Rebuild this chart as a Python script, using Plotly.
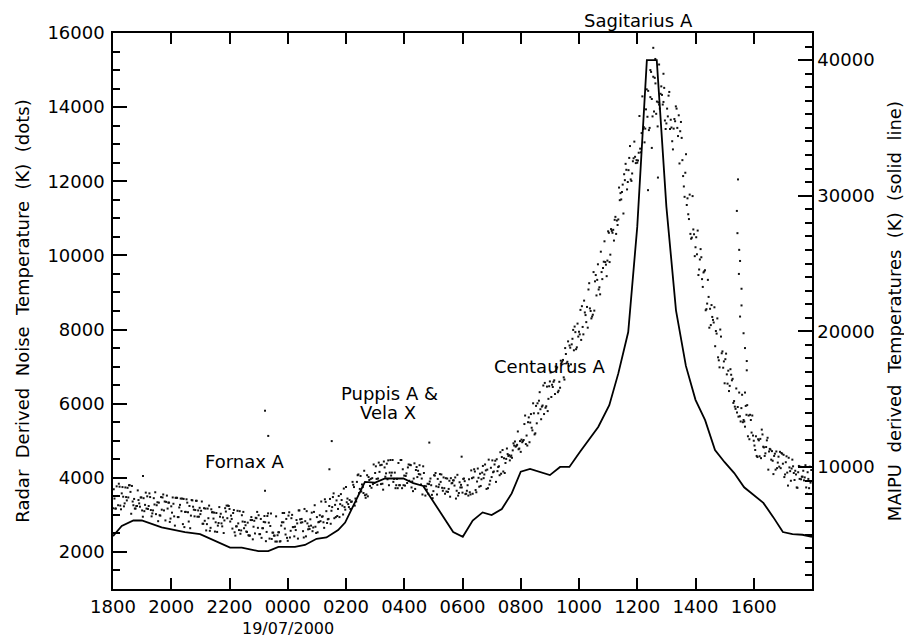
import plotly.graph_objects as go

# ---------------- data ----------------
# hours elapsed since 18:00 on 18/07/2000
x_tick_hours = [0, 2, 4, 6, 8, 10, 12, 14, 16, 18, 20, 22]
x_tick_labels = ["1800", "2000", "2200", "0000", "0200", "0400",
                 "0600", "0800", "1000", "1200", "1400", "1600"]
date_label = "19/07/2000"
date_label_hour = 6

# MAIPU derived temperatures (K), solid line, right axis
maipu_hours = [0, 0.30, 0.70, 0.99, 1.67, 2.47, 2.99, 4.02, 4.42, 4.99, 5.33, 5.68,
               6.25, 6.59, 6.99, 7.33, 7.73, 7.97, 8.65, 9.00, 9.34, 9.97, 10.31,
               10.65, 11.68, 12.01, 12.35, 12.69, 13.00, 13.35, 13.69, 14.00, 14.32,
               15.00, 15.35, 15.67, 16.03, 16.66, 17.04, 17.35, 17.69, 18.00, 18.33,
               18.67, 19.00, 19.33, 19.67, 20.00, 20.33, 20.67, 21.00, 21.33, 21.67,
               22.00, 22.33, 22.67, 23.00, 23.33, 23.67, 24.00]
maipu_K = [4900, 5650, 6050, 6050, 5550, 5200, 5050, 4050, 4050, 3800, 3800, 4100,
           4100, 4250, 4700, 4800, 5350, 5900, 8900, 8850, 9150, 9150, 8800,
           8600, 5200, 4850, 6050, 6650, 6450, 6900, 8050, 9650, 9850,
           9400, 10000, 10000, 11100, 12950, 14550, 16900, 19950, 27700, 40000,
           40000, 29200, 21550, 17450, 14950, 13450, 11250, 10350, 9550, 8500,
           7950, 7350, 6300, 5200, 5050, 5000, 4850]

# Radar derived noise temperature (K), dots, left axis.
# Series A: one sample every 3 minutes from 18:00; series B: same, offset by 1.5 minutes
radar_sample_minutes = 3
radar_noise_K_a = [
    3180, 3440, 3170, 3510, 3840, 3250, 3580, 3490, 3310, 3480,
    3730, 3800, 3620, 3780, 3260, 3170, 3240, 3660, 3310, 3470,
    3120, 3450, 3270, 3170, 3160, 3580, 3130, 3040, 3450, 3610,
    3260, 2830, 2990, 3480, 3470, 3120, 2850, 3520, 3330, 2810,
    3230, 3470, 2960, 3460, 3460, 2940, 3270, 3100, 2750, 2670,
    3080, 3330, 2820, 2640, 3400, 3220, 2960, 3380, 2950, 2950,
    3020, 3360, 2760, 2840, 2580, 3170, 3250, 2650, 3070, 2900,
    2550, 3050, 2710, 3210, 3030, 2690, 2510, 3180, 3250, 3250,
    3160, 2980, 2630, 3130, 2440, 2690, 2770, 3100, 2580, 2820,
    2640, 2720, 2540, 2450, 2440, 2940, 2340, 2840, 2920, 3080,
    2990, 2480, 2380, 2640, 2970, 2290, 2970, 2790, 2700, 2350,
    2520, 2440, 2960, 2450, 2530, 2290, 2800, 2800, 2630, 2890,
    2300, 3070, 2570, 3000, 2670, 2680, 2860, 2360, 3120, 2790,
    2800, 2390, 2830, 3100, 2610, 2620, 2710, 2560, 3080, 2680,
    2940, 2800, 2990, 3360, 2960, 2650, 3350, 2780, 2890, 3430,
    3110, 3480, 2910, 2940, 2970, 3510, 3290, 3400, 3010, 3210,
    3750, 3440, 3210, 3160, 3360, 3810, 3250, 3360, 4070, 3590,
    4050, 3820, 3590, 3530, 3550, 3500, 3940, 3970, 3990, 4360,
    4130, 3970, 3980, 4160, 3830, 3840, 4440, 4030, 4380, 4470,
    4140, 4060, 4480, 3970, 3720, 3970, 4400, 3800, 4480, 4230,
    4060, 4050, 3860, 4360, 4350, 3740, 3640, 4390, 4210, 4020,
    4100, 4090, 3980, 4310, 3780, 3770, 3840, 3830, 3980, 3540,
    3640, 4060, 3770, 3970, 3820, 3890, 3730, 4010, 3570, 3630,
    3620, 3920, 3990, 3860, 3930, 4010, 3650, 3520, 3880, 3810,
    3600, 3980, 3560, 3650, 3520, 3610, 4200, 3570, 4230, 3670,
    3900, 4000, 4110, 3960, 4320, 4090, 4200, 4220, 4490, 3920,
    4020, 4150, 4360, 3890, 4180, 4310, 4690, 4560, 4170, 4130,
    4510, 4640, 4610, 4570, 4540, 4930, 4980, 4860, 5250, 4790,
    4700, 4960, 5020, 5680, 5140, 5500, 4960, 5720, 5280, 5740,
    5200, 5470, 5740, 6310, 5580, 5950, 5720, 5890, 6460, 6130,
    6600, 6180, 6450, 6630, 7000, 6980, 6350, 6430, 7100, 7180,
    6650, 7340, 7130, 7020, 7510, 7600, 7990, 8080, 7470, 8160,
    7940, 8530, 8630, 7870, 8460, 8200, 8050, 9250, 8500, 8350,
    9550, 9300, 8920, 9760, 9140, 10100, 9360, 9830, 9820, 9440,
    10650, 9820, 10710, 10610, 10400, 11040, 10940, 10970, 11490, 11510,
    11910, 12190, 12470, 11780, 12300, 12950, 12010, 12540, 13070, 12490,
    12500, 12770, 12880, 13300, 13410, 13050, 13940, 13740, 13380, 14270,
    14220, 14820, 14790, 13820, 13480, 14070, 14360, 14330, 14140, 13640,
    13560, 13750, 14410, 13660, 13080, 13420, 13620, 13960, 13220, 12480,
    13600, 12570, 11860, 12230, 11360, 11110, 11640, 10450, 11600, 10570,
    10220, 10030, 9470, 9890, 9950, 9150, 9570, 8520, 8700, 8880,
    8560, 8660, 8260, 8600, 7960, 8300, 7170, 8000, 7360, 6970,
    6550, 7350, 6540, 6340, 6930, 6630, 6020, 5920, 6410, 5910,
    6300, 5520, 6240, 5560, 5380, 5700, 5120, 5040, 5560, 5680,
    5000, 4750, 4590, 5040, 4580, 4530, 5170, 4820, 4660, 5010,
    4220, 4780, 4490, 4460, 4590, 4220, 4260, 4570, 4700, 4670,
    4380, 4020, 4420, 4140, 4540, 4180, 4250, 4310, 3940, 4090,
    3730, 4320, 4300, 4030, 4190, 4010, 3740, 4150, 3720, 3870,
]
radar_noise_K_b = [
    3690, 3170, 3770, 3260, 3760, 3150, 3750, 3230, 3740, 3390,
    3470, 3800, 3030, 3360, 3430, 3170, 3240, 3400, 3220, 3470,
    2950, 3100, 3600, 3500, 3240, 3480, 2960, 3120, 3280, 3020,
    3340, 3330, 2980, 3140, 3550, 3360, 3350, 3170, 3330, 2900,
    3060, 3300, 2710, 3460, 2940, 3200, 3440, 3440, 3430, 3080,
    3420, 3070, 3240, 2980, 3390, 3140, 3130, 3380, 3120, 3190,
    3110, 2760, 3180, 3170, 2750, 2910, 2570, 3150, 3070, 3060,
    2800, 2540, 2780, 2950, 2770, 2930, 2850, 3090, 2910, 3240,
    2820, 2890, 3050, 2530, 2690, 3110, 2590, 2490, 2990, 3080,
    2810, 2550, 2790, 2440, 2860, 2860, 2680, 2500, 2910, 2650,
    2480, 2890, 2640, 2810, 2800, 2540, 3040, 2360, 3040, 2520,
    2440, 2280, 2280, 2530, 2280, 2710, 3050, 3050, 2470, 2380,
    2980, 2390, 2910, 2670, 2420, 2590, 2770, 3120, 2880, 2890,
    2560, 3160, 2420, 2770, 2690, 2880, 3060, 2660, 3260, 2510,
    2530, 2810, 2830, 2950, 2800, 3420, 3100, 2880, 3240, 2760,
    3210, 3580, 3270, 3390, 3160, 2940, 3560, 3250, 3710, 3140,
    3340, 3290, 3400, 3350, 3890, 3750, 3440, 3890, 4090, 3700,
    3630, 3750, 4190, 3460, 4070, 4020, 3780, 3730, 3830, 3860,
    4310, 3810, 4410, 4340, 4350, 3680, 4280, 4120, 3960, 3800,
    4480, 4140, 3890, 4140, 3800, 3720, 3800, 4480, 3720, 3800,
    3790, 4120, 4280, 3920, 4340, 3900, 3980, 3700, 4290, 4190,
    4340, 3820, 3550, 4130, 3520, 3680, 3570, 3900, 3800, 3450,
    4070, 4130, 3550, 3750, 4100, 4090, 3650, 3720, 3990, 3980,
    3700, 3490, 3850, 3930, 3790, 3440, 4080, 3590, 3740, 3740,
    3970, 3910, 3570, 3800, 3960, 3550, 3990, 4010, 4170, 3610,
    4250, 3760, 3780, 4140, 3990, 4360, 3700, 3720, 3820, 4270,
    4470, 4170, 4460, 4500, 4290, 4070, 4110, 4750, 4530, 4400,
    4790, 4590, 4470, 4600, 4740, 4870, 4840, 4890, 4770, 4990,
    5030, 4990, 5450, 4910, 4870, 5630, 5490, 5350, 6010, 5170,
    5940, 6010, 6080, 5850, 5920, 6490, 6560, 5930, 5800, 6470,
    6840, 6510, 6590, 6260, 6940, 6310, 6590, 7160, 7140, 6710,
    7500, 7090, 7680, 7570, 7060, 7750, 7440, 7930, 7520, 7810,
    7870, 7720, 8070, 8780, 8390, 8610, 9080, 8570, 8300, 8400,
    8510, 9470, 9340, 9080, 8950, 9550, 9660, 10380, 9750, 9860,
    10610, 10020, 10660, 10690, 10960, 10580, 10820, 11830, 11680, 11710,
    11130, 12030, 12310, 11980, 12630, 12050, 12210, 12620, 12660, 12570,
    12560, 13760, 12780, 14290, 13460, 13420, 14480, 14440, 13440, 14950,
    13750, 13880, 14640, 14150, 14130, 13960, 14560, 14070, 14520, 13410,
    13960, 14310, 13410, 13450, 12860, 13680, 14020, 13440, 13780, 13350,
    13170, 12140, 11580, 12730, 11540, 10980, 10580, 10480, 10700, 9980,
    10490, 10670, 9620, 10170, 9360, 9540, 9600, 8550, 9340, 8050,
    8120, 8340, 8190, 7550, 7890, 7250, 6980, 7810, 7410, 7140,
    7200, 6790, 6890, 6480, 6780, 6670, 6070, 5860, 5760, 5650,
    5660, 5880, 5500, 5520, 5940, 5960, 5680, 5700, 5220, 5140,
    4870, 5120, 4560, 5010, 5050, 5300, 4840, 4590, 4830, 5080,
    4710, 4760, 4720, 4100, 4650, 4710, 4410, 4300, 4260, 4650,
    4620, 4090, 4580, 3790, 4280, 3920, 4490, 4130, 4190, 3740,
    4150, 3970, 3960, 4030, 3930, 4340, 3570, 3970, 4300, 4210,
]

# scattered outlying radar samples (hours since 18:00, K)
radar_extra_hours = [1.03, 5.22, 5.33, 5.22, 7.51, 7.43, 10.86, 11.97,
                     18.37, 18.50, 18.71, 18.55, 18.62, 18.75, 18.45, 18.90,
                     21.46, 21.42, 21.44, 21.50, 21.53, 21.49, 21.58, 21.58, 21.53,
                     21.65, 21.70, 21.76, 21.76, 21.70]
radar_extra_K = [4050, 5810, 5130, 3650, 4990, 4230, 4950, 4570,
                 11760, 12900, 12100, 15600, 15300, 15150, 15000, 14900,
                 12050, 11200, 10600, 10150, 9850, 9500, 9100, 8650, 8350,
                 7900, 7500, 7150, 6900, 6300]

# source labels inside the plot (hours, K on left axis)
labels = ["Centaurus A", "Puppis A &", "Vela X", "Fornax A"]
label_hours = [15.0, 9.48, 9.44, 4.52]
label_K = [7010, 6280, 5760, 4430]
# label above the plot frame
top_label = "Sagitarius A"
top_label_hour = 18.03

left_title = "Radar Derived Noise Temperature (K) (dots)"
right_title = "MAIPU derived Temperatures (K) (solid line)"

# ---------------- figure ----------------
step_h = radar_sample_minutes / 60.0
radar_hours_a = [i * step_h for i in range(len(radar_noise_K_a))]
radar_hours_b = [(i + 0.5) * step_h for i in range(len(radar_noise_K_b))]

FONT = "DejaVu Sans"
SP = "\u00a0\u00a0"
fig = go.Figure()
fig.add_trace(go.Scatter(
    x=radar_hours_a + radar_hours_b + radar_extra_hours,
    y=radar_noise_K_a + radar_noise_K_b + radar_extra_K,
    mode="markers", marker=dict(symbol="square", size=2, color="#111111",
                                line=dict(width=0)),
    yaxis="y", hoverinfo="skip"))
fig.add_trace(go.Scatter(
    x=maipu_hours, y=maipu_K, mode="lines",
    line=dict(color="black", width=1.8), yaxis="y2", hoverinfo="skip"))

txt_font = dict(family=FONT, size=18, color="black")
for t, h, k in zip(labels, label_hours, label_K):
    fig.add_annotation(x=h, y=k, xref="x", yref="y", text=t, showarrow=False,
                       font=txt_font)
fig.add_annotation(x=top_label_hour, y=1.023, xref="x", yref="paper",
                   yanchor="middle", text=top_label, showarrow=False, font=txt_font)
fig.add_annotation(x=date_label_hour, y=-0.0705, xref="x", yref="paper",
                   yanchor="middle", text=date_label, showarrow=False,
                   borderpad=0, font=dict(family=FONT, size=16, color="black"))
fig.add_annotation(x=1.1175, y=0.5, xref="paper", yref="paper",
                   xanchor="center", yanchor="middle", textangle=-90,
                   text=SP.join(right_title.split(" ")), showarrow=False, font=txt_font)

axis_common = dict(showline=True, linecolor="black", linewidth=1.5,
                   showgrid=False, zeroline=False, ticks="inside",
                   tickcolor="black", tickwidth=1.5, automargin=False,
                   tickfont=dict(family=FONT, size=18, color="black"))

fig.update_layout(
    width=904, height=639,
    margin=dict(l=113, r=92, t=33, b=50),
    paper_bgcolor="white", plot_bgcolor="white",
    showlegend=False,
    font=dict(family=FONT, size=18, color="black"),
    xaxis=dict(range=[0, 24], tickvals=x_tick_hours, ticktext=x_tick_labels,
               tickangle=0, ticklen=11, mirror="ticks", ticklabelstandoff=1,
               **axis_common),
    yaxis=dict(range=[1000, 16000], tick0=0, dtick=2000, tickformat="d",
               ticklen=14, ticklabelstandoff=3,
               minor=dict(dtick=500, ticklen=7, ticks="inside",
                          tickcolor="black", tickwidth=1.5, showgrid=False),
               title=dict(text=SP.join(left_title.split(" ")),
                          font=dict(family=FONT, size=18), standoff=13),
               **axis_common),
    yaxis2=dict(range=[1000, 42000], tick0=0, dtick=10000, tickformat="d",
                overlaying="y", side="right", ticklen=14,
                minor=dict(dtick=1000, ticklen=7, ticks="inside",
                           tickcolor="black", tickwidth=1.5, showgrid=False),
                **axis_common),
)

fig.write_html("out.html", config={"displayModeBar": False},
               post_script="document.body.style.margin='0px';"
                           "document.body.style.overflow='hidden';")
